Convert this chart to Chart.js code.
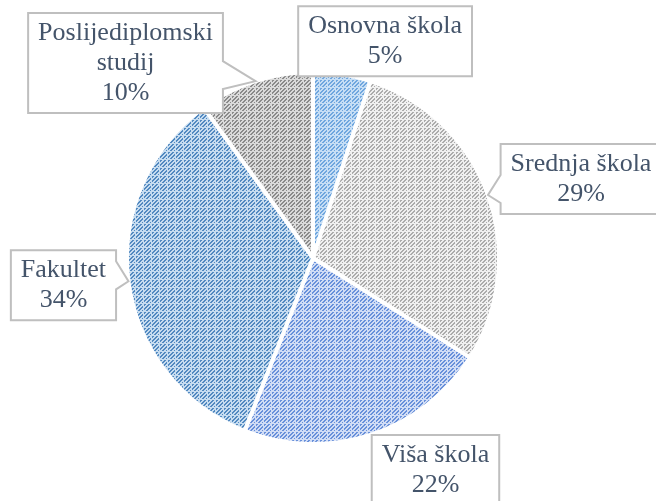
<!DOCTYPE html>
<html>
<head>
<meta charset="utf-8">
<script src="https://cdn.jsdelivr.net/npm/chart.js@4.4.1/dist/chart.umd.min.js"></script>
<style>
  html, body { margin: 0; padding: 0; background: #fff; }
  #wrap { width: 656px; height: 501px; position: relative; }
</style>
</head>
<body>
<div id="wrap"><canvas id="eduChart"></canvas></div>
<script>
// Education level shares (percent)
const categories = [['Osnovna škola'], ['Srednja škola'], ['Viša škola'], ['Fakultet'], ['Poslijediplomski', 'studij']];
const shares = [5, 29, 22, 34, 10];

// pattern colours per slice: [background, dashes]
const sliceColors = [
    ['#c6def5', '#6fa6de'],
    ['#f0f0f0', '#acacac'],
    ['#d0dcf5', '#6890da'],
    ['#c6dcf0', '#5289c0'],
    ['#dadada', '#8a8a8a']
];

// where each callout box sits relative to the outer middle of its slice
const calloutOffsets = [[43, -33], [93, -16], [65, 35], [-65, 4], [-130, -18]];

// small 8x8 "dashed upward diagonal" tile, like the office pattern fill
function makePattern(bg, fg) {
    const tile = document.createElement('canvas');
    tile.width = 8;
    tile.height = 8;
    const t = tile.getContext('2d');
    t.fillStyle = bg;
    t.fillRect(0, 0, 8, 8);
    t.fillStyle = fg;
    for (let y = 0; y < 8; y++) {
        for (let x = 0; x < 8; x++) {
            if (y === 7 || x === 7) continue;
            if ((x + y) % 4 < 2) t.fillRect(x, y, 1, 1);
        }
    }
    return t.createPattern(tile, 'repeat');
}

// boxed labels with a little wedge pointing at the slice
const callouts = {
    id: 'callouts',
    afterDatasetsDraw(chart) {
        const ctx = chart.ctx;
        const arcs = chart.getDatasetMeta(0).data;
        ctx.save();
        ctx.font = '26px "Liberation Serif", "Times New Roman", serif';
        ctx.textAlign = 'center';
        ctx.textBaseline = 'middle';

        arcs.forEach((arc, i) => {
            const { x, y, startAngle, endAngle, outerRadius } =
                arc.getProps(['x', 'y', 'startAngle', 'endAngle', 'outerRadius'], true);
            const mid = (startAngle + endAngle) / 2;
            const tipX = x + Math.cos(mid) * outerRadius;
            const tipY = y + Math.sin(mid) * outerRadius;

            const lines = [...categories[i], shares[i] + '%'];
            const w = Math.max(...lines.map(l => ctx.measureText(l).width)) + 20;
            const h = lines.length * 30 + 10;
            const cx = tipX + calloutOffsets[i][0];
            const cy = tipY + calloutOffsets[i][1];
            const x0 = cx - w / 2, x1 = cx + w / 2, y0 = cy - h / 2, y1 = cy + h / 2;

            const a = Math.min(Math.max(tipY - 20, y0 + 1), y1 - 30);
            const b = a + 28;

            ctx.beginPath();
            if (tipX > x1 + 6) {
                ctx.moveTo(x0, y0);
                ctx.lineTo(x1, y0);
                ctx.lineTo(x1, a);
                ctx.lineTo(tipX, tipY);
                ctx.lineTo(x1, b);
                ctx.lineTo(x1, y1);
                ctx.lineTo(x0, y1);
            } else if (tipX < x0 - 6) {
                ctx.moveTo(x0, y0);
                ctx.lineTo(x1, y0);
                ctx.lineTo(x1, y1);
                ctx.lineTo(x0, y1);
                ctx.lineTo(x0, b);
                ctx.lineTo(tipX, tipY);
                ctx.lineTo(x0, a);
            } else {
                ctx.rect(x0, y0, w, h);
            }
            ctx.closePath();
            ctx.fillStyle = '#ffffff';
            ctx.fill();
            ctx.strokeStyle = '#bfbfbf';
            ctx.lineWidth = 2;
            ctx.stroke();

            ctx.fillStyle = '#44546a';
            lines.forEach((l, k) => ctx.fillText(l, cx, y0 + 20 + k * 30));
        });
        ctx.restore();
    }
};

const ctx = document.getElementById('eduChart').getContext('2d');
const chart = new Chart(ctx, {
    type: 'pie',
    data: {
        labels: categories,
        datasets: [{
            data: shares,
            backgroundColor: sliceColors.map(c => makePattern(c[0], c[1])),
            borderColor: '#ffffff',
            borderWidth: 4
        }]
    },
    options: {
        responsive: true,
        maintainAspectRatio: false,
        animation: false,
        events: [],
        layout: { padding: { top: 70, bottom: 55, left: 125, right: 155 } },
        plugins: {
            legend: { display: false },
            tooltip: { enabled: false }
        }
    },
    plugins: [callouts]
});
</script>
</body>
</html>
